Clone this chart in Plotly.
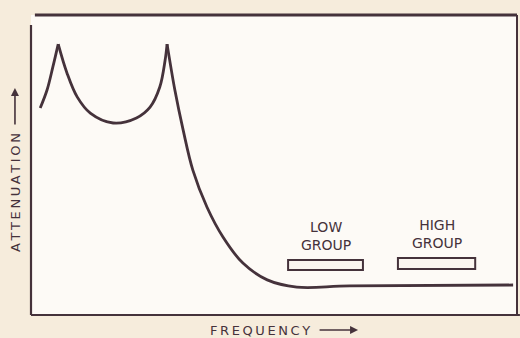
import plotly.graph_objects as go

# Attenuation response (relative units, 0-100 on both axes)
freq = [1.9, 3.3, 4.5, 5.6, 7.4, 9.5, 12.2, 16.9, 21.7, 24.5, 26.5, 27.6, 28.0,
        29.6, 31.3, 33.3, 36.2, 39.5, 43.6, 48.6, 54.7, 65.6, 99.2]
atten = [69.0, 75.0, 82.7, 90.3, 80.7, 72.7, 67.3, 64.0, 65.7, 69.3, 76.0, 85.0, 90.3,
         75.0, 61.7, 48.3, 36.0, 26.0, 17.3, 11.7, 9.3, 9.7, 10.0]
# indices of the two sharp resonance peaks (cusps)
peaks = [3, 12]

# Signalling tone groups
band_names = ["LOW<br>GROUP", "HIGH<br>GROUP"]
band_start = [52.9, 75.5]
band_end = [68.3, 91.4]
band_lo = [15.0, 15.3]
band_hi = [18.3, 19.0]

INK = "#45323b"
PAPER = "#f6ecdc"
FONT = "DejaVu Sans"
THIN = "\u2009"

fig = go.Figure()

# draw each stretch between cusps as its own smoothed trace
cuts = [0] + peaks + [len(freq) - 1]
for a, b in zip(cuts[:-1], cuts[1:]):
    fig.add_trace(go.Scatter(
        x=freq[a:b + 1], y=atten[a:b + 1], mode="lines",
        line=dict(color=INK, width=2.8, shape="spline", smoothing=1.0),
        hoverinfo="skip", showlegend=False,
    ))

for name, x0, x1, y0, y1 in zip(band_names, band_start, band_end, band_lo, band_hi):
    fig.add_shape(type="rect", xref="x", yref="y", x0=x0, x1=x1, y0=y0, y1=y1,
                  line=dict(color=INK, width=2), fillcolor="#fbf6f0")
    fig.add_annotation(x=(x0 + x1) / 2, y=y1, xref="x", yref="y", text=name,
                       showarrow=False, yanchor="bottom", yshift=5,
                       font=dict(family=FONT, size=14, color=INK))

# frame, with a heavier top edge and an open top-left corner
frame = [
    dict(x0=0.008, x1=1.0, y0=1.0, y1=1.0, w=3.2),
    dict(x0=0.0, x1=0.0, y0=0.0, y1=0.967, w=2.2),
    dict(x0=0.0, x1=1.006, y0=0.0, y1=0.0, w=2.2),
    dict(x0=1.0, x1=1.0, y0=0.0, y1=1.0, w=2.0),
]
for f in frame:
    fig.add_shape(type="line", xref="paper", yref="paper",
                  x0=f["x0"], x1=f["x1"], y0=f["y0"], y1=f["y1"],
                  line=dict(color=INK, width=f["w"]))

# axis captions with arrows
fig.add_annotation(x=-0.033, y=0.41, xref="paper", yref="paper",
                   text=THIN.join("ATTENUATION"), textangle=-90, showarrow=False,
                   xanchor="center", yanchor="middle",
                   font=dict(family=FONT, size=13, color=INK))
fig.add_annotation(x=-0.033, y=0.757, xref="paper", yref="paper", text="",
                   showarrow=True, ax=0, ay=38, arrowhead=2, arrowsize=1,
                   arrowwidth=1.6, arrowcolor=INK)
fig.add_annotation(x=0.471, y=-0.05, xref="paper", yref="paper",
                   text=THIN.join("FREQUENCY"), showarrow=False,
                   xanchor="center", yanchor="middle",
                   font=dict(family=FONT, size=13, color=INK))
fig.add_annotation(x=0.673, y=-0.05, xref="paper", yref="paper", text="",
                   showarrow=True, ax=-40, ay=0, arrowhead=2, arrowsize=1,
                   arrowwidth=1.6, arrowcolor=INK)

axis_style = dict(showgrid=False, zeroline=False, showticklabels=False, ticks="",
                  showline=False, fixedrange=True)
fig.update_xaxes(range=[0, 100], **axis_style)
fig.update_yaxes(range=[0, 100], **axis_style)

fig.update_layout(
    width=520, height=338,
    margin=dict(l=31, r=3, t=15, b=23),
    paper_bgcolor=PAPER, plot_bgcolor="#fdfaf6",
    showlegend=False,
)

fig.write_html("out.html")
